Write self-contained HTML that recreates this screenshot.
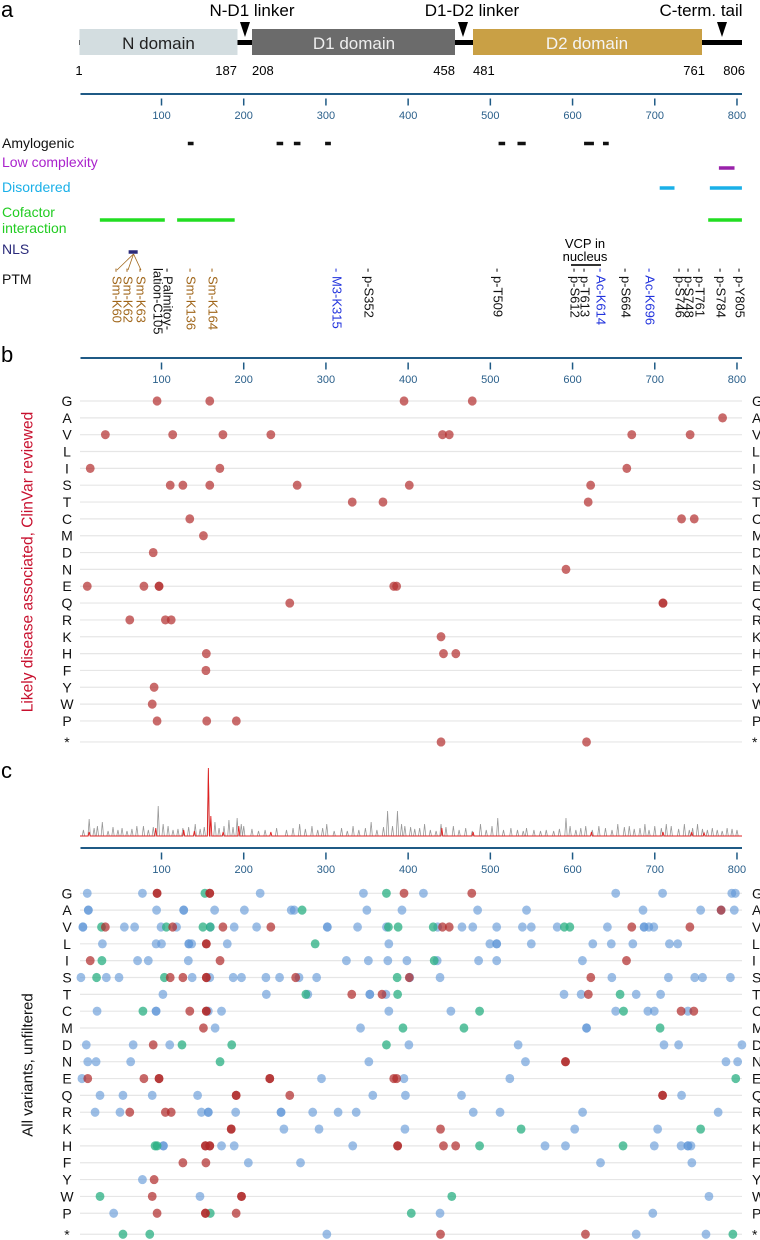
<!DOCTYPE html>
<html><head><meta charset="utf-8"><style>
html,body{margin:0;padding:0;background:#fff}
svg{display:block;font-family:"Liberation Sans",sans-serif}
</style></head><body>
<svg id="fig" width="760" height="1240" viewBox="0 0 760 1240" xmlns="http://www.w3.org/2000/svg">
<g id="panelA">
<text x="1" y="17" font-size="22">a</text>
<text x="252" y="16" font-size="17" text-anchor="middle">N-D1 linker</text>
<text x="472" y="16" font-size="17" text-anchor="middle">D1-D2 linker</text>
<text x="701" y="16" font-size="17" text-anchor="middle">C-term. tail</text>
<rect x="79" y="40" width="663" height="5" fill="#000"/>
<rect x="79.5" y="29" width="158" height="26" fill="#d3dde0"/>
<rect x="252" y="29" width="203" height="26" fill="#6b6b6b"/>
<rect x="473" y="29" width="229" height="26" fill="#c9a045"/>
<text x="158.5" y="49" font-size="17" text-anchor="middle" fill="#222">N domain</text>
<text x="354" y="49" font-size="17" text-anchor="middle" fill="#eee">D1 domain</text>
<text x="587" y="49" font-size="17" text-anchor="middle" fill="#f4f4f4">D2 domain</text>
<path d="M240,22 L250,22 L245,37 Z" fill="#000"/>
<path d="M458,22 L468,22 L463,37 Z" fill="#000"/>
<path d="M717,22 L727,22 L722,37 Z" fill="#000"/>
<g font-size="13">
<text x="79" y="75" text-anchor="middle">1</text>
<text x="237" y="75" text-anchor="end">187</text>
<text x="252" y="75">208</text>
<text x="455" y="75" text-anchor="end">458</text>
<text x="473" y="75">481</text>
<text x="705" y="75" text-anchor="end">761</text>
<text x="745" y="75" text-anchor="end">806</text>
</g>
<g font-size="14">
<text x="2" y="148" fill="#111">Amylogenic</text>
<text x="2" y="167" fill="#aa22cc">Low complexity</text>
<text x="2" y="192" fill="#1ab0e8">Disordered</text>
<text x="2" y="217" fill="#22cc22">Cofactor</text>
<text x="2" y="233" fill="#22cc22">interaction</text>
<text x="2" y="254" fill="#2a2a7a">NLS</text>
<text x="2" y="284" fill="#111">PTM</text>
</g>
<text x="585" y="248" font-size="13" text-anchor="middle">VCP in</text>
<text x="585" y="261" font-size="13" text-anchor="middle">nucleus</text>
<rect x="571" y="264" width="30" height="2" fill="#333"/>
</g>
<g id="tracks"></g>
<g id="axes"></g>
<g id="panelB"></g>
<g id="panelC"></g>
</svg>
<script>
// ---- data ----
const residues = ["G","A","V","L","I","S","T","C","M","D","N","E","Q","R","K","H","F","Y","W","P","*"];
const axisTicks = [100,200,300,400,500,600,700,800];
const amyloidSegs = [[132,139],[240,248],[261,269],[299,306],[510,518],[533,543],[614,626],[637,644]];
const lowComplexSegs = [[778,797]];
const disorderSegs = [[706,724],[767,806]];
const cofactorSegs = [[25,104],[119,189],[765,806]];
const nlsSegs = [[60,71]];
const ptmPos = [60,62,63,105,136,164,315,352,509,612,613,614,664,696,746,748,761,784,805];
const ptmText = ["Sm-K60","Sm-K62","Sm-K63","Palmitoy-","Sm-K136","Sm-K164","M3-K315","p-S352","p-T509","p-S612","p-T613","Ac-K614","p-S664","Ac-K696","p-S746","p-S748","p-T761","p-S784","p-Y805"];
const ptmKind = ["sm","sm","sm","pa","sm","sm","ac","p","p","p","p","ac","p","ac","p","p","p","p","p"];
const bPos = [
 [94.6,158.7,395,478],[782.5],[31.7,113.6,174.7,233,441.8,450,672,743],[],[13.3,171,666],
 [110.6,126,158.7,265,401.4,622],[332,369.4,619],[134.4,732.6,748],[151],[89.9],[592],
 [9.7,78.6,97,97,382.5,386],[256,710,710],[61.4,104.7,111.8],[440],[154.5,443,458],[154],[91],[88.7],[94.6,155,191],[440,617]
];
const cBlue = [
 [9.7,76.8,220,345.6,418.6,652.5,709.5,793.7,798],
 [11,11,94,127,127,164.6,200.8,257.8,261.4,349.8,392.5,484.5,544,685.7,755.8,780.7,796.7],
 [4.4,4.4,54.8,67.3,99.4,118.3,159.3,188.4,215.7,301.7,301.7,338.5,373.6,435.9,465.5,478.6,507.7,539,549.8,581.3,642.4,687,687,692.8,698.8],
 [28.1,93.4,100,133.2,133.2,136.7,180,376.5,499.4,507.7,507.7,549.8,624.6,647.1,673.3,717.8,727.9],
 [70.9,83.9,132.6,324.9,351.6,375.3,398.5,435.3,485.7,507.7,612],
 [2,32.9,48.3,137.3,158.7,187.2,197.3,227,243.6,267.3,288.7,402,438.8,647.8,716.6,748.6,758.1,792],
 [101.7,227.5,278,353.4,353.4,373,589.6,610.4,677.4,707.1],
 [21.6,93.4,93.4,156.9,173,376.5,452,652.5,691.6,699.4,740.3],
 [165.2,342.1,617,617],
 [8.5,65.5,110,400.9,533.8,711.2,729,806],
 [10.3,20.4,62.5,352.2,542.7,786.6,800.8],
 [3.2,294.6,394.9,523.7],
 [25.2,53.1,88.7,143.9,357,396.7,464.9,732.6],
 [19.2,49.5,148.6,156.9,156.9,190.2,245.4,245.4,283.9,314.8,336.8,479.2,511.8,612.2,777.1],
 [248.9,291.6,396.1,602.6,703.5],
 [102.3,102.3,173,188.4,332.6,566.5,591.4,699.4,732,740.3,740.3,744],
 [205.6,269.1,634,745.1],
 [76.8],
 [146.8,765.9],
 [41.8,438.8,697.6],
 [301.1,677.4,762.3]
];
const cGreen = [
 [152.8,373.6],[271],[27,105.9,150.4,159.3,376,387.8,430.5,590,596.7],[286.9],[27.5,431.7],
 [21,103.5,386.6],[275.6,387.2,657.8],[77.4,486.9,662],[393.7,467.9,706.5],[124.9,185.4,373.6],[171.2],
 [798.5],[],[],[537.4,755.8],[92.2,94.6,486.9,661.4],[],[],[25.2,453.1],[159.3,403.8],[53.1,85.7,795]
];
const cRed = [
 [94.6,94.6,158.7,158.7,395,477.4],[780.7],[31.7,113.6,174.7,233,441.8,450,672,742.7],[154.5,154.5],[13.3,171.2,665.6],
 [110.6,126,154.5,154.5,263.2,401.4,622.2],[331.4,368.2,619.2],[134.4,154.5,154.5,732,747.5],[151],[89.9],[591.4,591.4],
 [10.3,78.6,97,97,231.7,231.7,382.5,386],[190.8,190.8,256,709.5,709.5],[61.4,104.7,111.8],[184.8,184.8,439.4],
 [153.4,153.4,158.7,158.7,387.2,387.2,443,457.8],[126,154],[91],[88.7,197.3,197.3],[94.6,153.4,153.4,190.8],[439.4,615.7]
];
const sparkGrayPos = [5,12,18,22,28,35,41,47,52,58,64,70,78,84,90,96,102,108,114,120,126,133,141,147,152,157,165,170,176,182,187,192,197,200,210,218,226,240,252,260,268,275,283,290,296,301,310,319,326,333,340,348,355,362,370,375,381,387,392,396,403,408,414,420,427,434,440,446,455,462,470,478,488,495,502,509,516,525,533,540,544,553,561,568,577,584,592,597,604,610,616,624,632,640,648,655,663,669,675,682,688,693,700,708,714,720,729,736,742,746,752,758,764,770,776,782,788,794,800];
const sparkGrayH = [6,17,8,10,14,5,9,6,8,5,7,10,10,6,9,30,12,10,6,7,8,9,12,7,9,66,14,8,10,16,9,18,12,10,7,5,6,8,6,8,12,7,10,6,8,12,5,8,5,10,6,8,14,6,9,25,10,25,12,10,9,7,8,12,6,5,12,9,10,6,8,5,12,6,10,18,6,8,6,5,8,6,5,6,5,7,18,10,6,8,10,6,10,8,6,12,9,10,7,8,12,6,10,8,12,10,7,12,6,8,12,7,6,8,6,5,8,7,6];
const sparkRedPos = [12,93,127,140,157,160,175,194,233,441,479,623,710,745,760];
const sparkRedH = [4,8,6,5,68,20,4,10,4,8,4,4,4,4,3];

// ---- helpers ----
const NS = "http://www.w3.org/2000/svg";
const X = p => 79.3 + p * 0.8221;
function mk(tag, attrs, parent){
  const e = document.createElementNS(NS, tag);
  for (const k in attrs) e.setAttribute(k, attrs[k]);
  parent.appendChild(e);
  return e;
}

const tracks = document.getElementById("tracks");
function segTrack(segs, y, h, color, name){
  segs.forEach(s => {
    const r = mk("rect", {x: X(s[0]), y: y - h/2, width: Math.max(3, X(s[1]) - X(s[0])), height: h, fill: color}, tracks);
    
    
  });
}
segTrack(amyloidSegs, 143.5, 3.5, "#111", "amylogenic-segment");
segTrack(lowComplexSegs, 168, 3.5, "#9922aa", "low-complexity-segment");
segTrack(disorderSegs, 188, 3.5, "#1ab0e8", "disordered-segment");
segTrack(cofactorSegs, 220, 3.5, "#22dd22", "cofactor-segment");
segTrack(nlsSegs, 252, 3.5, "#2a2a7a", "nls-segment");

[60,62,63].forEach((p,i) => {
  const l = mk("line", {x1: X(66), y1: 254, x2: [117,128,141][i], y2: 270, stroke: "#a0661a", "stroke-width": 0.8}, tracks);
  
  
});

const ptmX = [117,128,141,168,191,213,337,369,498,575,585,601,626,650,680,689,700,721,740];
const kindColor = {sm:"#a0661a", pa:"#111", ac:"#2233dd", p:"#111"};
ptmText.forEach((t,i) => {
  const tx = mk("text", {x: 0, y: 0, "font-size": 13, fill: kindColor[ptmKind[i]], "dominant-baseline": "central",
    transform: `translate(${ptmX[i]},268) rotate(90)`}, tracks);
  tx.textContent = "- " + t;
  
  
});
const pal2 = mk("text", {x: 0, y: 0, "font-size": 13, fill: "#111", "dominant-baseline": "central",
  transform: "translate(158,268) rotate(90)"}, tracks);
pal2.textContent = "lation-C105";



const axesG = document.getElementById("axes");
function drawAxis(y, name){
  const g = mk("g", {}, axesG);
  
  
  mk("line", {x1: 80.5, y1: y, x2: 742, y2: y, stroke: "#1f5a85", "stroke-width": 2}, g);
  axisTicks.forEach(t => {
    const tk = mk("line", {x1: X(t), y1: y + 4.5, x2: X(t), y2: y + 11.5, stroke: "#1f5a85", "stroke-width": 1.5}, g);
    
    
    const lb = mk("text", {x: X(t), y: y + 25, "font-size": 11, fill: "#2a5f8a", "text-anchor": "middle"}, g);
    lb.textContent = t;
    
    
  });
}
drawAxis(94, "panel-a-axis");
drawAxis(358, "panel-b-axis");
drawAxis(848, "panel-c-axis");

function rowY(top, i){ return i < 20 ? top + i * 16.84 : top + 19 * 16.84 + 21; }
function drawRows(g, top){
  residues.forEach((r,i) => {
    const y = rowY(top, i);
    const gl = mk("line", {x1: 80, y1: y, x2: 742, y2: y, stroke: "#e6e6e6", "stroke-width": 1.2}, g);
    
    
    [[67,"middle"],[752,"start"]].forEach(([x,a]) => {
      const t = mk("text", {x: x, y: y + 5, "font-size": 14, "text-anchor": a, fill: "#111"}, g);
      t.textContent = r;
      
      
    });
  });
}
function dots(g, top, arr, color, name){
  arr.forEach((row,i) => row.forEach(p => {
    const c = mk("ellipse", {cx: X(p), cy: rowY(top, i), rx: 4.4, ry: 4.6, fill: color}, g);
    
    
  }));
}

const pb = document.getElementById("panelB");


const bl = mk("text", {x: 1, y: 362, "font-size": 22}, pb);
bl.textContent = "b";


const bt = mk("text", {x: 0, y: 0, "font-size": 15.5, fill: "#c8102e", "text-anchor": "middle", "dominant-baseline": "central", transform: "translate(28,562) rotate(-90)"}, pb);
bt.textContent = "Likely disease associated, ClinVar reviewed";


drawRows(pb, 401);
dots(pb, 401, bPos, "rgba(180,50,50,0.72)", "clinvar-variant-dot");

const pc = document.getElementById("panelC");


const cl = mk("text", {x: 1, y: 778, "font-size": 22}, pc);
cl.textContent = "c";


const ct = mk("text", {x: 0, y: 0, "font-size": 15, fill: "#111", "text-anchor": "middle", "dominant-baseline": "central", transform: "translate(28,1065) rotate(-90)"}, pc);
ct.textContent = "All variants, unfiltered";


const base = 836;
let gd = `M80,${base}`;
sparkGrayPos.forEach((p,i) => { const x = X(p); gd += ` L${x-1.2},${base} L${x},${base - sparkGrayH[i]} L${x+1.2},${base}`; });
gd += ` L742,${base}`;
const gp = mk("path", {d: gd, fill: "none", stroke: "#999", "stroke-width": 0.8}, pc);


let rd = `M80,${base}`;
sparkRedPos.forEach((p,i) => { const x = X(p); rd += ` L${x-1},${base} L${x},${base - sparkRedH[i]} L${x+1},${base}`; });
rd += ` L742,${base}`;
const rp = mk("path", {d: rd, fill: "none", stroke: "#e02020", "stroke-width": 0.9}, pc);


drawRows(pc, 893.3);
dots(pc, 893.3, cBlue, "rgba(95,150,215,0.62)", "variant-dot-blue");
dots(pc, 893.3, cGreen, "rgba(40,175,130,0.75)", "variant-dot-green");
dots(pc, 893.3, cRed, "rgba(175,40,40,0.7)", "variant-dot-red");
</script>
</body></html>
